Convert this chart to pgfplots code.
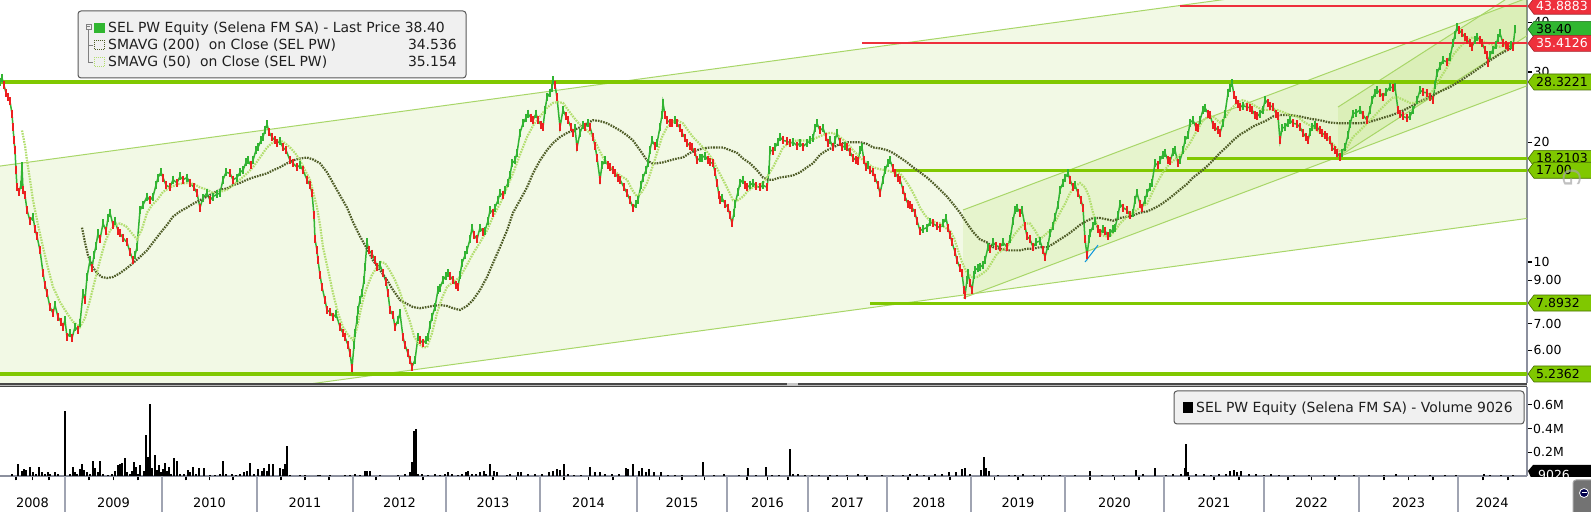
\documentclass[border=0pt]{standalone}
\usepackage{pgfplots}
\pgfplotsset{compat=1.18}
\usepackage{pgfplotstable}
\usepackage{fontspec}
\setmainfont{DejaVu Sans}
\newcommand\fs[1]{\fontsize{#1}{#1}\selectfont}
\definecolor{pgreen}{RGB}{50,180,50}
\definecolor{pred}{RGB}{236,32,32}
\definecolor{limeln}{RGB}{128,200,0}
\definecolor{chanline}{RGB}{168,214,104}
\definecolor{smaB}{RGB}{78,92,38}
\definecolor{smaA}{RGB}{178,222,110}
\definecolor{hred}{RGB}{238,48,60}
\definecolor{boxgreen}{RGB}{48,182,48}
\definecolor{axgrey}{RGB}{140,144,158}
\definecolor{sepgrey}{RGB}{160,164,178}
\definecolor{legfill}{RGB}{240,240,240}

\pgfplotstableread{
x y c
0 28.4 u
2 29.0 u
4 27.8 d
6 26.6 d
8 26.0 d
10 25.3 d
12 23.6 d
13 21.8 d
14 20.2 d
15 19.1 d
16 17.0 d
17 15.4 d
19 15.0 d
21 15.6 u
22 17.4 u
23 15.2 d
25 14.7 d
27 13.5 d
30 12.7 d
33 13.0 u
35 12.1 d
37 11.6 d
40 10.7 d
43 9.4 d
45 8.76 d
47 8.36 d
50 7.71 d
53 7.44 d
55 7.80 u
58 7.28 d
61 7.08 d
63 6.87 d
65 7.15 u
67 6.48 d
70 6.63 u
72 6.44 d
75 6.87 u
78 6.75 d
80 7.02 u
83 8.36 u
85 8.03 d
87 9.17 u
90 10.1 u
92 9.66 d
94 10.4 u
96 11.0 u
98 11.8 u
100 11.4 d
103 12.5 u
106 12.0 d
108 12.9 u
110 13.3 u
113 12.4 d
115 12.7 u
118 12.0 d
120 11.8 d
123 11.5 d
127 11.2 d
130 10.6 d
133 10.1 d
135 10.4 u
137 10.9 u
140 13.5 u
143 13.9 u
147 14.6 u
150 14.3 d
153 14.6 u
156 15.6 u
158 16.3 u
161 16.8 u
163 16.3 d
166 15.6 d
170 15.4 d
173 16.1 u
177 15.8 d
180 16.4 u
183 16.1 d
187 16.3 u
190 15.8 d
194 15.4 d
197 14.9 d
200 13.7 d
203 14.5 u
207 14.9 u
210 14.3 d
213 14.6 u
217 14.8 u
220 14.9 u
223 16.1 u
226 16.8 u
230 16.7 d
233 16.1 d
237 16.3 u
240 16.8 u
243 17.0 u
246 17.8 u
248 18.0 u
251 17.5 d
253 18.0 u
256 19.1 u
258 19.4 u
261 20.2 u
263 20.6 u
265 21.4 u
267 22.2 u
269 21.2 d
272 20.6 d
275 20.2 d
277 19.9 d
280 20.1 u
283 19.4 d
286 19.1 d
290 18.0 d
293 17.7 d
297 17.3 d
300 17.5 u
303 17.0 d
307 16.1 d
310 15.6 d
312 14.9 d
314 13.1 d
315 11.4 d
317 10.7 d
318 10.1 d
320 9.29 d
322 8.66 d
325 8.03 d
327 7.58 d
330 7.49 d
333 7.28 d
336 7.40 u
340 6.87 d
343 6.63 d
345 6.48 d
348 6.19 d
350 5.90 d
352 5.42 d
354 6.19 u
355 6.63 u
357 7.15 u
358 7.58 u
360 8.03 u
362 8.36 u
364 9.01 u
365 9.71 u
367 11.2 u
369 10.7 d
372 10.5 d
375 10.1 d
377 9.71 d
380 9.84 u
383 9.38 d
386 8.91 d
388 8.36 d
390 7.58 d
393 7.36 d
395 6.87 d
398 7.15 u
400 7.44 u
403 6.48 d
405 6.19 d
408 5.90 d
410 5.68 d
412 5.46 d
415 5.68 u
418 6.48 u
420 6.37 d
423 6.26 d
426 6.37 u
428 6.48 u
430 6.95 u
432 7.28 u
435 7.71 u
438 8.51 u
440 8.61 u
443 9.01 u
446 9.23 u
448 9.38 u
450 9.23 d
453 9.01 d
456 8.76 d
458 8.66 d
460 9.29 u
462 9.94 u
465 10.4 u
467 10.7 u
470 11.4 u
472 12.2 u
474 11.7 d
477 11.4 d
480 12.2 u
483 11.9 d
485 12.0 u
488 12.7 u
490 13.5 u
493 13.3 d
495 13.7 u
498 14.3 u
500 14.9 u
503 14.7 d
505 15.2 u
508 15.8 u
510 16.5 u
512 17.7 u
515 18.0 u
517 18.8 u
520 21.1 u
523 22.3 u
526 23.0 u
528 23.6 u
531 23.0 d
533 22.7 d
536 23.6 u
538 22.7 d
541 22.1 d
543 21.8 d
545 24.1 u
547 25.9 u
550 26.6 u
552 27.4 u
553 28.6 u
555 27.8 d
557 25.9 d
560 21.8 d
563 24.1 u
566 23.2 d
568 22.7 d
571 21.8 d
573 21.1 d
575 21.7 u
577 19.4 d
580 21.1 u
583 22.1 u
585 21.8 d
588 22.3 u
590 21.8 d
593 20.6 d
595 19.6 d
597 18.3 d
600 16.1 d
602 17.5 u
605 18.0 u
608 17.5 d
610 17.3 d
613 17.0 d
615 16.7 d
618 16.3 d
620 16.1 d
624 15.4 d
627 14.9 d
630 14.3 d
633 13.7 d
636 14.0 u
638 14.3 u
641 15.6 u
643 16.3 u
646 17.0 u
648 17.7 u
650 19.1 u
652 20.2 u
655 19.6 d
657 19.9 u
660 21.8 u
662 23.4 u
663 25.1 u
665 23.4 d
667 22.7 d
670 22.4 d
672 22.3 d
675 22.7 u
677 22.3 d
680 21.7 d
682 21.1 d
685 20.5 d
687 19.9 d
690 19.6 d
692 19.4 d
695 18.9 d
697 18.0 d
700 18.2 u
702 18.3 u
705 18.5 u
708 18.0 d
710 17.8 d
713 17.7 d
715 16.8 d
717 15.8 d
719 14.7 d
720 14.3 d
722 14.5 u
725 14.0 d
728 13.7 d
730 13.1 d
732 12.5 d
734 13.3 u
735 14.0 u
738 15.0 u
740 15.8 u
743 16.1 u
745 15.6 d
747 15.4 d
750 15.6 u
753 15.8 u
756 15.5 d
760 15.4 d
763 15.6 u
767 15.4 d
769 17.0 u
770 19.1 u
773 19.0 d
775 19.4 u
778 20.0 u
780 20.6 u
783 20.2 d
787 20.1 d
790 19.9 d
793 20.0 u
797 19.6 d
800 19.9 u
803 19.5 d
807 19.9 u
810 20.2 u
813 20.5 u
815 21.7 u
817 22.3 u
820 21.4 d
823 21.7 u
826 20.6 d
828 19.9 d
830 20.2 u
833 19.4 d
835 20.2 u
837 21.1 u
840 20.0 d
842 19.4 d
845 19.6 u
847 19.4 d
850 18.9 d
853 18.3 d
856 18.0 d
858 17.9 d
860 19.1 u
862 19.4 u
864 18.0 d
866 17.3 d
868 17.5 u
870 17.0 d
873 16.8 d
875 16.3 d
878 15.6 d
880 14.9 d
883 16.1 u
885 17.0 u
888 17.7 u
890 18.0 u
893 17.2 d
895 16.7 d
898 16.3 d
900 16.1 d
903 15.2 d
905 14.6 d
908 14.0 d
910 13.9 d
912 13.7 d
915 13.3 d
917 12.7 d
920 12.0 d
923 12.1 u
927 12.2 u
930 12.6 u
933 12.5 d
937 12.3 d
940 12.2 d
943 12.5 u
946 12.9 u
948 12.2 d
950 11.7 d
952 11.2 d
955 10.6 d
957 10.1 d
960 9.66 d
962 9.38 d
964 8.51 d
965 8.26 d
967 9.01 u
968 9.38 u
970 8.86 d
972 8.51 d
974 9.29 u
975 9.55 u
978 9.66 u
980 9.71 u
983 9.84 u
985 10.1 u
988 10.9 u
990 10.8 d
993 11.2 u
996 11.0 d
1000 10.9 d
1003 11.2 u
1007 10.9 d
1010 11.4 u
1013 12.7 u
1015 13.5 u
1017 13.7 u
1020 13.3 d
1022 13.5 u
1025 12.3 d
1027 11.6 d
1030 11.4 d
1033 10.9 d
1036 11.2 u
1040 11.3 u
1043 10.7 d
1045 10.3 d
1048 11.0 u
1050 11.8 u
1053 12.3 u
1055 13.0 u
1058 13.9 u
1060 15.2 u
1063 15.8 u
1065 16.3 u
1068 16.7 u
1070 16.1 d
1073 15.4 d
1075 15.6 u
1078 14.9 d
1081 14.3 d
1083 13.7 d
1085 11.4 d
1087 10.4 d
1089 11.4 u
1090 11.8 u
1093 12.3 u
1095 12.7 u
1098 12.1 d
1100 11.8 d
1103 12.1 u
1105 12.0 d
1108 11.6 d
1110 11.8 u
1113 12.1 u
1115 12.2 u
1118 13.1 u
1120 14.0 u
1123 13.7 d
1127 13.5 d
1130 13.1 d
1133 13.3 u
1135 14.3 u
1137 14.9 u
1140 14.0 d
1142 13.7 d
1145 14.3 u
1147 14.9 u
1150 15.4 u
1152 15.8 u
1155 17.7 u
1158 17.5 d
1160 18.0 u
1163 18.6 u
1165 18.8 u
1168 18.0 d
1170 17.9 d
1173 18.9 u
1175 19.1 u
1178 17.7 d
1180 18.0 u
1183 19.1 u
1185 20.2 u
1188 20.8 u
1190 22.4 u
1193 22.7 u
1196 21.8 d
1198 21.7 d
1200 22.7 u
1203 24.1 u
1205 24.4 u
1208 23.6 d
1210 23.4 d
1213 22.1 d
1215 21.8 d
1218 21.4 d
1220 21.1 d
1223 22.3 u
1225 23.6 u
1228 26.6 u
1230 27.4 u
1232 28.1 u
1234 26.3 d
1236 25.5 d
1238 24.9 d
1240 24.5 d
1243 24.7 u
1247 24.5 d
1250 24.4 d
1252 24.1 d
1255 23.4 d
1257 23.2 d
1260 23.6 u
1263 24.1 u
1265 25.5 u
1268 25.1 d
1270 24.7 d
1273 24.5 d
1276 23.6 d
1278 23.2 d
1280 20.2 d
1282 21.7 u
1285 21.8 u
1288 22.4 u
1290 22.7 u
1293 22.3 d
1297 22.2 d
1300 21.8 d
1303 21.1 d
1306 20.6 d
1308 20.2 d
1310 21.2 u
1312 21.8 u
1315 22.1 u
1317 21.8 d
1320 21.4 d
1322 21.1 d
1325 20.8 d
1327 20.6 d
1330 20.2 d
1332 19.4 d
1335 19.1 d
1337 18.8 d
1340 18.4 d
1342 18.8 u
1345 19.4 u
1348 20.8 u
1350 22.2 u
1353 23.6 u
1356 23.7 u
1360 24.1 u
1363 23.4 d
1367 22.7 d
1370 24.1 u
1372 25.5 u
1375 26.6 u
1377 27.0 u
1380 26.6 d
1383 26.0 d
1386 26.7 u
1390 27.5 u
1393 27.4 d
1395 27.5 u
1398 24.1 d
1400 23.6 d
1403 23.2 d
1407 23.0 d
1410 23.2 u
1413 24.1 u
1417 25.5 u
1420 27.0 u
1423 26.7 d
1427 26.6 d
1430 26.0 d
1433 25.5 d
1435 27.8 u
1437 29.8 u
1440 31.0 u
1443 32.1 u
1447 31.8 d
1450 32.7 u
1453 35.5 u
1455 37.2 u
1457 38.9 u
1459 38.2 d
1462 37.5 d
1465 36.7 d
1467 36.1 d
1470 35.5 d
1472 34.7 d
1475 36.1 u
1477 36.7 u
1480 36.1 d
1482 35.5 d
1485 34.1 d
1487 33.1 d
1488 31.6 d
1490 33.1 u
1493 34.1 u
1496 35.1 u
1498 36.5 u
1500 37.5 u
1503 35.5 d
1506 35.1 d
1508 34.7 d
1511 35.1 u
1513 34.7 d
1515 38.4 u
}\price

\pgfplotstableread{
x y
22 21.4
25 19.6
27 18.0
30 16.1
33 14.3
38 12.4
43 10.9
48 9.66
53 8.66
60 7.94
67 7.44
73 7.08
80 6.87
85 7.24
90 8.03
95 9.01
100 10.1
105 11.2
110 12.0
115 12.4
120 12.5
126 12.3
132 11.8
137 11.4
142 12.1
147 13.3
152 13.9
157 14.3
163 15.0
170 15.4
178 15.7
187 15.8
194 15.7
200 15.4
207 15.2
213 14.9
220 15.0
227 15.2
233 15.6
240 16.1
247 16.7
253 17.3
260 18.3
267 19.4
273 20.0
280 20.2
285 19.9
290 19.4
295 18.8
300 18.0
305 17.0
310 16.1
314 14.7
317 13.7
320 12.4
323 10.9
328 9.55
333 8.36
338 7.44
343 6.87
348 6.56
353 6.37
357 6.82
360 7.44
363 8.03
367 8.66
372 9.29
377 9.71
381 10.0
385 9.94
390 9.50
395 9.01
400 8.41
405 7.66
410 7.08
414 6.52
418 6.26
423 6.11
427 6.11
432 6.63
437 7.44
442 8.12
447 8.66
453 8.91
460 9.17
467 9.84
473 10.5
480 11.2
487 12.0
493 13.0
500 14.0
507 15.4
513 16.7
520 18.6
527 20.6
533 22.0
540 23.2
547 24.4
553 25.1
558 25.2
563 25.1
568 24.1
573 23.2
578 22.4
583 21.8
588 21.3
593 20.6
598 19.4
603 18.3
608 17.6
613 17.0
620 16.5
627 16.1
632 15.2
637 14.6
642 15.0
647 15.8
652 17.2
657 18.8
662 20.6
667 21.8
672 22.4
677 22.7
683 22.3
688 21.4
693 20.6
698 20.0
703 19.4
708 18.8
713 18.0
718 17.0
723 16.1
728 15.2
733 14.3
738 14.3
743 14.6
748 15.1
753 15.4
758 15.6
763 15.8
768 16.5
773 17.3
778 18.3
783 19.4
790 20.0
797 20.2
803 20.2
810 20.2
816 20.5
822 20.8
828 21.1
833 21.1
840 20.6
847 19.9
853 19.1
860 18.3
867 17.7
873 17.3
880 17.1
887 17.0
893 16.8
900 16.7
905 16.1
910 15.4
915 14.6
920 13.7
925 13.1
930 12.7
935 12.6
940 12.5
945 12.2
950 12.0
954 11.5
958 10.7
962 10.0
967 9.38
972 9.17
977 9.17
982 9.34
987 9.55
992 10.0
997 10.5
1002 10.7
1007 10.9
1013 11.6
1020 12.2
1025 12.5
1030 12.5
1035 12.0
1040 11.4
1045 11.7
1050 12.0
1055 12.6
1060 13.3
1065 14.0
1070 14.9
1075 15.5
1080 15.8
1085 15.4
1089 14.6
1093 13.3
1097 12.4
1100 11.8
1105 11.6
1110 11.6
1115 12.0
1120 12.5
1127 13.0
1133 13.3
1140 13.7
1147 14.0
1152 14.9
1157 15.8
1163 16.8
1170 17.7
1175 18.1
1180 18.6
1185 19.1
1190 19.9
1197 21.4
1203 22.7
1208 23.2
1213 23.2
1220 22.4
1225 23.0
1230 24.1
1237 25.1
1243 25.5
1250 25.1
1257 24.5
1263 24.1
1270 24.1
1277 24.1
1283 23.8
1290 23.4
1297 23.2
1305 22.4
1313 21.8
1320 21.1
1327 20.5
1333 19.8
1338 19.1
1343 18.8
1348 19.6
1353 20.6
1360 21.4
1367 22.3
1374 23.2
1380 24.1
1387 25.1
1393 25.9
1398 25.9
1404 25.5
1410 25.1
1415 25.1
1420 25.1
1427 25.9
1433 27.0
1440 28.9
1447 30.8
1453 33.1
1460 34.7
1467 36.1
1473 36.7
1480 36.1
1487 35.5
1493 35.1
1500 34.7
1507 35.1
1513 35.15
}\smaA

\pgfplotstableread{
x y
82 12.2
85 11.2
88 10.4
92 9.77
97 9.38
102 9.17
107 9.12
113 9.17
120 9.38
127 9.66
133 9.94
140 10.3
147 10.7
153 11.2
160 11.8
167 12.4
173 13.0
180 13.4
187 13.7
193 14.0
200 14.3
207 14.6
213 14.9
220 15.2
227 15.3
233 15.6
240 15.8
247 16.1
253 16.3
260 16.5
267 16.7
273 17.0
280 17.3
287 17.7
293 18.0
300 18.2
307 18.3
313 18.1
320 17.7
327 16.8
333 15.8
340 14.7
347 13.7
353 12.6
360 11.6
367 10.8
373 10.1
380 9.55
387 9.01
393 8.51
400 8.03
407 7.85
413 7.71
420 7.66
427 7.71
433 7.76
440 7.80
447 7.76
453 7.66
460 7.58
467 7.76
473 8.03
480 8.51
487 9.17
493 9.94
500 10.9
507 12.0
513 13.3
520 14.3
527 15.4
533 16.7
540 18.0
547 19.1
553 19.9
560 20.6
567 21.1
573 21.4
580 21.8
587 22.3
593 22.7
600 22.6
607 22.3
613 21.9
620 21.4
627 20.8
633 20.2
640 19.1
647 18.0
652 17.7
657 17.7
663 17.8
670 18.0
677 18.2
683 18.3
690 18.8
697 19.1
703 19.3
710 19.4
717 19.4
723 19.4
730 19.1
737 18.8
743 18.2
750 17.7
757 17.0
763 16.3
768 16.1
773 16.1
780 16.3
787 16.4
793 16.5
800 16.8
807 17.3
813 17.7
820 18.6
827 19.1
833 19.4
840 19.8
847 20.0
853 20.0
860 20.0
867 19.8
873 19.4
880 19.3
887 19.1
893 18.8
900 18.3
907 17.8
913 17.3
920 16.8
927 16.3
933 15.8
940 15.2
947 14.6
953 14.0
960 13.3
967 12.5
973 11.9
980 11.4
987 11.2
993 10.9
1000 10.8
1007 10.7
1013 10.7
1020 10.7
1027 10.8
1033 10.8
1040 10.9
1047 10.9
1053 11.1
1060 11.4
1067 11.7
1073 12.0
1080 12.4
1087 12.7
1093 12.9
1100 12.9
1107 12.8
1113 12.7
1120 12.9
1127 13.0
1133 13.1
1140 13.3
1147 13.4
1153 13.6
1160 13.9
1167 14.3
1173 14.7
1180 15.2
1187 15.7
1193 16.3
1200 16.8
1207 17.4
1213 18.0
1220 18.8
1227 19.5
1233 20.2
1240 20.9
1247 21.4
1253 21.9
1260 22.3
1267 22.7
1273 23.2
1280 23.4
1290 23.4
1300 23.2
1310 22.9
1320 22.7
1330 22.4
1340 22.3
1350 22.3
1360 22.3
1370 22.5
1380 22.9
1390 23.3
1400 23.8
1410 24.5
1420 25.3
1430 26.0
1440 26.8
1450 27.5
1460 28.5
1470 29.6
1480 30.8
1490 32.1
1500 33.3
1508 34.1
1513 34.54
}\smaB

\pgfplotstableread{
x v
12 0.02
18 0.10
22 0.04
24 0.06
26 0.05
30 0.08
33 0.03
36 0.02
39 0.08
42 0.03
45 0.02
48 0.03
50 0.02
55 0.03
58 0.02
65 0.55
70 0.02
73 0.08
75 0.03
77 0.02
80 0.06
82 0.10
84 0.05
87 0.03
90 0.02
93 0.13
95 0.07
98 0.03
100 0.13
103 0.02
108 0.01
112 0.02
115 0.04
118 0.09
120 0.10
122 0.11
125 0.15
127 0.03
130 0.02
132 0.04
134 0.12
136 0.08
138 0.02
140 0.09
144 0.04
146 0.35
148 0.16
150 0.61
152 0.07
155 0.18
157 0.05
159 0.09
161 0.03
163 0.06
165 0.11
167 0.04
169 0.08
171 0.02
174 0.15
177 0.13
180 0.02
184 0.02
188 0.05
190 0.03
193 0.08
196 0.02
199 0.07
204 0.07
210 0.01
215 0.01
220 0.02
223 0.13
226 0.02
232 0.02
236 0.01
240 0.02
244 0.03
247 0.04
250 0.11
254 0.02
258 0.06
262 0.04
264 0.07
267 0.04
269 0.10
273 0.10
280 0.07
283 0.06
285 0.10
287 0.25
290 0.01
300 0.01
305 0.01
318 0.01
320 0.01
330 0.01
345 0.01
350 0.01
355 0.02
360 0.01
365 0.04
367 0.04
370 0.04
380 0.01
398 0.01
405 0.02
410 0.03
412 0.12
414 0.38
416 0.40
418 0.02
422 0.02
428 0.01
435 0.02
440 0.01
445 0.02
448 0.03
452 0.02
458 0.01
462 0.02
466 0.03
468 0.04
472 0.02
476 0.02
480 0.03
484 0.04
486 0.02
490 0.10
494 0.04
497 0.03
507 0.01
510 0.02
518 0.03
521 0.03
528 0.02
535 0.02
542 0.02
549 0.03
553 0.04
557 0.06
560 0.05
564 0.10
568 0.02
574 0.01
581 0.01
590 0.08
595 0.03
600 0.03
605 0.02
612 0.02
619 0.02
626 0.07
628 0.06
633 0.10
639 0.04
642 0.07
646 0.03
649 0.06
654 0.03
661 0.03
668 0.01
675 0.01
682 0.01
696 0.01
703 0.12
714 0.01
724 0.02
739 0.01
748 0.07
756 0.01
766 0.08
772 0.01
779 0.01
790 0.23
793 0.02
798 0.02
805 0.01
812 0.01
819 0.01
830 0.01
837 0.01
847 0.01
858 0.02
865 0.01
882 0.01
893 0.01
903 0.01
910 0.02
917 0.02
924 0.01
935 0.02
942 0.02
949 0.03
956 0.03
962 0.06
965 0.07
970 0.02
981 0.05
984 0.16
986 0.07
989 0.04
998 0.01
1009 0.01
1015 0.01
1023 0.02
1034 0.01
1044 0.01
1049 0.01
1060 0.01
1075 0.01
1090 0.04
1102 0.01
1113 0.01
1124 0.01
1136 0.05
1143 0.02
1155 0.07
1166 0.01
1173 0.02
1181 0.02
1185 0.07
1186 0.27
1188 0.03
1196 0.02
1204 0.02
1211 0.01
1219 0.02
1226 0.02
1230 0.04
1234 0.05
1237 0.03
1241 0.04
1249 0.02
1256 0.02
1264 0.01
1271 0.02
1279 0.01
1294 0.01
1309 0.01
1324 0.01
1339 0.01
1354 0.01
1369 0.01
1384 0.01
1396 0.02
1415 0.01
1430 0.01
1445 0.01
1456 0.01
1484 0.02
1490 0.01
1501 0.01
1513 0.01
}\vol

\newcommand\lbl[5]{% coord, fill, text colour, text, border
  \filldraw[fill=#2, draw=#5, line width=0.6bp] (#1) ++(1bp,0bp) -- ++(6bp,8bp) -- ++(70bp,0bp) -- ++(0bp,-16bp) -- ++(-70bp,0bp) -- cycle;
  \path (#1) ++(9bp,0bp) node[anchor=west, inner sep=0pt, text=#3, font=\fs{12.5}] {#4};
}

\begin{document}
\begin{tikzpicture}[x=1bp,y=1bp]
\path[use as bounding box] (0,0) rectangle (1591,512);
\fill[white] (0,0) rectangle (1591,512);

\begin{axis}[
  at={(0bp,512bp)}, anchor=north west,
  scale only axis, width=1527bp, height=383bp,
  xmin=0, xmax=1527, ymode=log, ymin=4.97, ymax=45.5,
  axis x line=none, axis y line*=right,
  axis line style={draw=axgrey, line width=1.5bp},
  ytick={6,7,9,10,20,30,40},
  yticklabels={6.00,7.00,9.00,10,20,30,40},
  minor y tick style={draw=none},
  y tick style={black, line width=1.2bp},
  major tick length=5bp, tick align=outside,
  yticklabel style={font=\fs{12.5}, black, inner sep=1.5bp},
]
% channels
\addplot[draw=none, fill=limeln, fill opacity=0.1] coordinates {(0,17.42) (1527,57.9) (1527,12.87) (0,3.875) (0,17.42)};
\addplot[draw=none, fill=limeln, fill opacity=0.1] coordinates {(963,13.51) (1527,46.0) (1527,27.7) (963,8.12) (963,13.51)};
\addplot[draw=none, fill=limeln, fill opacity=0.1] coordinates {(1338,24.5) (1527,49.4) (1527,37.0) (1338,18.35) (1338,24.5)};
\addplot[chanline, line width=1bp] coordinates {(0,17.42) (1527,57.9)};
\addplot[chanline, line width=1bp] coordinates {(0,3.875) (1527,12.87)};
\addplot[chanline, line width=1bp] coordinates {(963,13.51) (1527,46.0)};
\addplot[chanline, line width=1bp] coordinates {(963,8.12) (1527,27.7)};
\addplot[chanline, line width=1bp] coordinates {(1338,24.5) (1527,49.4)};
\addplot[chanline, line width=1bp] coordinates {(1338,18.35) (1527,37.0)};
% horizontal levels
\addplot[limeln, line width=4bp] coordinates {(0,28.3221) (1527,28.3221)};
\addplot[limeln, line width=4bp] coordinates {(0,5.2362) (1527,5.2362)};
\addplot[limeln, line width=3bp] coordinates {(893,17.00) (1527,17.00)};
\addplot[limeln, line width=2.5bp] coordinates {(1187,18.2103) (1527,18.2103)};
\addplot[limeln, line width=3bp] coordinates {(870,7.8932) (1527,7.8932)};
% price
\addplot[scatter, scatter src=explicit symbolic, pgreen, line width=1.5bp,
  mark options={line width=1.8bp, solid},
  scatter/classes={u={mark=|, pgreen, mark size=4bp}, d={mark=|, pred, mark size=4bp}}]
  table[meta=c] {\price};
\addplot[cyan!80!blue, line width=1bp] coordinates {(1085,10.0) (1098,11.03)};
% moving averages
\addplot[smaB, line width=2.2bp, dash pattern=on 1.6bp off 1.1bp] table {\smaB};
\addplot[smaA, line width=2.2bp, dash pattern=on 1.6bp off 1.1bp] table {\smaA};
% red levels
\addplot[hred, line width=1.5bp] coordinates {(1180,43.8883) (1527,43.8883)};
\addplot[hred, line width=2.2bp] coordinates {(862,35.4126) (1527,35.4126)};
\coordinate (b1) at (axis cs:1527,43.8883);
\coordinate (b2) at (axis cs:1527,38.40);
\coordinate (b3) at (axis cs:1527,35.4126);
\coordinate (b4) at (axis cs:1527,28.3221);
\coordinate (b5) at (axis cs:1527,18.2103);
\coordinate (b6) at (axis cs:1527,17.00);
\coordinate (b7) at (axis cs:1527,7.8932);
\coordinate (b8) at (axis cs:1527,5.2362);
\end{axis}

% separator between panels
\fill[black!72] (0,125) rectangle (1527,129);
\draw[gray!55, line width=0.8bp] (0,127) -- (1527,127);
\fill[gray!45] (787,125.5) rectangle (798,128.5);

\begin{axis}[
  at={(0bp,125bp)}, anchor=north west,
  scale only axis, width=1527bp, height=89bp,
  xmin=0, xmax=1527, ymin=0, ymax=0.751,
  axis x line*=bottom, axis y line*=right,
  axis line style={draw=axgrey, line width=1.5bp},
  ytick={0.2,0.4,0.6}, yticklabels={0.2M,0.4M,0.6M},
  yticklabel style={font=\fs{12.5}, black, inner sep=1.5bp},
  xtick={16,32.5,49,89,113.5,138,186,209.5,233,281,305,329,376,399.5,423,469.5,493,516.5,564,588.5,613,659.5,682,704.5,747,767.5,788,828,847.5,867,908,929,950,994.5,1018,1041.5,1090,1114.5,1139,1189,1214,1239,1288,1311.5,1335,1384,1408.5,1433,1483,1508},
  xticklabel={\relax},
  major tick length=4.5bp, tick align=outside,
  tick style={black, line width=1.2bp},
  clip=false,
]
\addplot[ycomb, black, line width=1.3bp] table[x=x, y=v] {\vol};
\pgfplotsinvokeforeach{65,162,257,353,446,540,637,727,808,887,971,1065,1164,1264,1359,1458}{
  \draw[sepgrey, line width=1.3bp] (axis cs:#1,0) -- ++(0bp,-40bp);
}
\node[font=\fs{13}, anchor=center, yshift=-27bp] at (axis cs:32.5,0) {2008};
\node[font=\fs{13}, anchor=center, yshift=-27bp] at (axis cs:113.5,0) {2009};
\node[font=\fs{13}, anchor=center, yshift=-27bp] at (axis cs:209.5,0) {2010};
\node[font=\fs{13}, anchor=center, yshift=-27bp] at (axis cs:305,0) {2011};
\node[font=\fs{13}, anchor=center, yshift=-27bp] at (axis cs:399.5,0) {2012};
\node[font=\fs{13}, anchor=center, yshift=-27bp] at (axis cs:493,0) {2013};
\node[font=\fs{13}, anchor=center, yshift=-27bp] at (axis cs:588.5,0) {2014};
\node[font=\fs{13}, anchor=center, yshift=-27bp] at (axis cs:682,0) {2015};
\node[font=\fs{13}, anchor=center, yshift=-27bp] at (axis cs:767.5,0) {2016};
\node[font=\fs{13}, anchor=center, yshift=-27bp] at (axis cs:847.5,0) {2017};
\node[font=\fs{13}, anchor=center, yshift=-27bp] at (axis cs:929,0) {2018};
\node[font=\fs{13}, anchor=center, yshift=-27bp] at (axis cs:1018,0) {2019};
\node[font=\fs{13}, anchor=center, yshift=-27bp] at (axis cs:1114.5,0) {2020};
\node[font=\fs{13}, anchor=center, yshift=-27bp] at (axis cs:1214,0) {2021};
\node[font=\fs{13}, anchor=center, yshift=-27bp] at (axis cs:1311.5,0) {2022};
\node[font=\fs{13}, anchor=center, yshift=-27bp] at (axis cs:1408.5,0) {2023};
\node[font=\fs{13}, anchor=center, yshift=-27bp] at (axis cs:1492,0) {2024};
\end{axis}

% right-hand value boxes
\lbl{b1}{hred}{white}{43.8883}{hred!70!black}
\lbl{b2}{boxgreen}{black}{38.40}{boxgreen!60!black}
\lbl{b3}{hred}{white}{35.4126}{hred!70!black}
\lbl{b4}{limeln}{black}{28.3221}{limeln!55!black}
\lbl{b5}{limeln}{black}{18.2103}{limeln!55!black}
\lbl{b6}{limeln}{black}{17.00}{limeln!55!black}
\lbl{b7}{limeln}{black}{7.8932}{limeln!55!black}
\lbl{b8}{limeln}{black}{5.2362}{limeln!55!black}
\node[gray!70, opacity=0.7, font=\fs{24}, rotate=-90] at (1572,334) {G};

% volume last-value box
\begin{scope}
\clip (1527,35) rectangle (1591,60);
\fill[black] (1528,41) -- (1533,47) -- (1600,47) -- (1600,30) -- (1533,30) -- cycle;
\node[white, font=\fs{12.5}, anchor=west, inner sep=0pt] at (1538,37) {9026};
\end{scope}

% top legend
\filldraw[fill=legfill, draw=black!65, line width=1bp, rounded corners=3bp] (78,501) rectangle (466,434);
\draw[gray, line width=0.6bp] (86,483) rectangle (91,488);
\draw[gray, line width=0.6bp] (87,485.5) -- (90,485.5);
\draw[gray, line width=0.6bp] (88.5,483) -- (88.5,450) -- (93,450);
\draw[gray, line width=0.6bp] (88.5,467) -- (93,467);
\fill[boxgreen] (94,479) rectangle (105,489);
\draw[smaB, line width=1bp, dash pattern=on 1bp off 1bp] (94.5,462.5) rectangle (104,471.5);
\draw[smaA, line width=1bp, dash pattern=on 1bp off 1bp] (94.5,445.5) rectangle (104,454.5);
\node[anchor=base west, inner sep=0pt, font=\fs{14}, text=black!88] at (108,479) {SEL PW Equity (Selena FM SA) - Last Price 38.40};
\node[anchor=base west, inner sep=0pt, font=\fs{14}, text=black!88] at (108,462) {SMAVG (200)\ \ on Close (SEL PW)};
\node[anchor=base west, inner sep=0pt, font=\fs{14}, text=black!88] at (108,445) {SMAVG (50)\ \ on Close (SEL PW)};
\node[anchor=base east, inner sep=0pt, font=\fs{14}, text=black!88] at (457,462) {34.536};
\node[anchor=base east, inner sep=0pt, font=\fs{14}, text=black!88] at (457,445) {35.154};

% volume legend
\filldraw[fill=legfill, draw=black!65, line width=1bp, rounded corners=3bp] (1174,121) rectangle (1524,88);
\fill[black] (1183,99) rectangle (1193,110);
\node[anchor=base west, inner sep=0pt, font=\fs{14}, text=black!88] at (1196,99) {SEL PW Equity (Selena FM SA) - Volume 9026};

% corner button
\filldraw[fill=black!55, draw=black!35, line width=1bp, rounded corners=3bp] (1573,-4) rectangle (1600,32);
\filldraw[fill=blue!30!black, draw=white!80, line width=0.8bp] (1584,19) circle (4.5bp);
\draw[white, line width=1bp] (1581.5,19) -- (1586.5,19);
\end{tikzpicture}
\end{document}
